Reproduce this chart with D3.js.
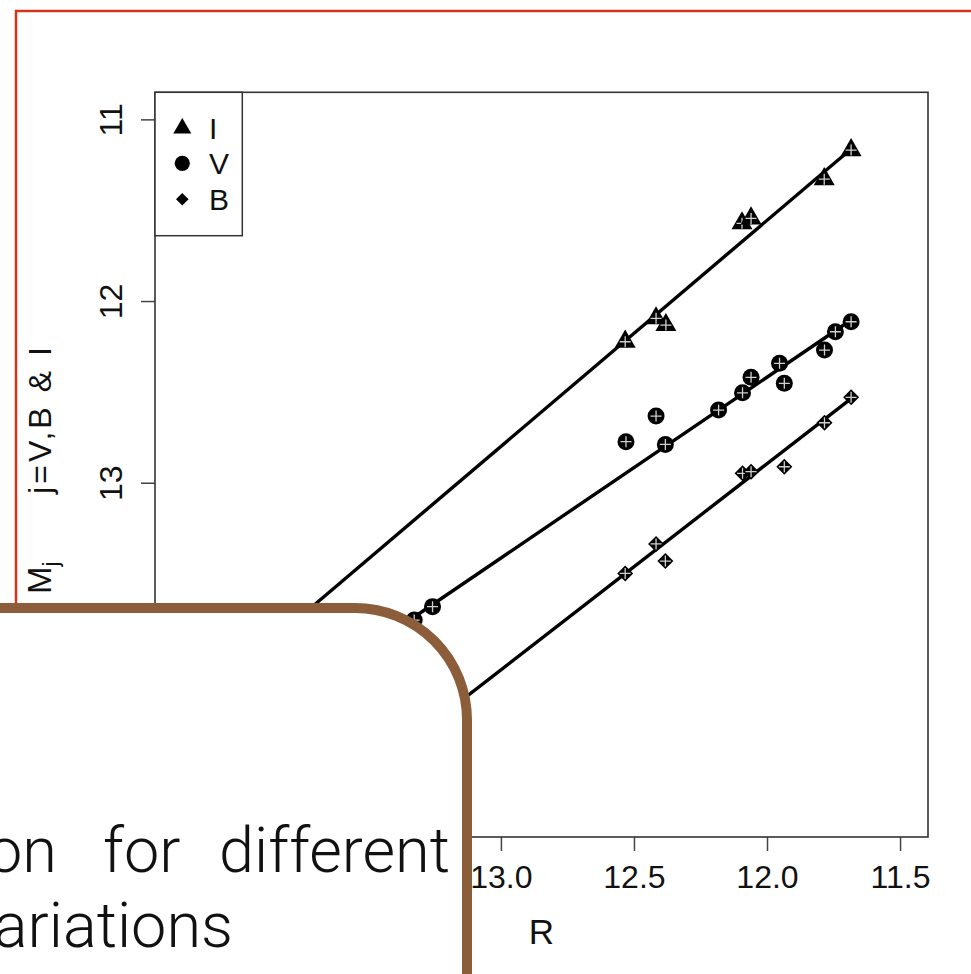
<!DOCTYPE html>
<html lang="en">
<head>
    <meta charset="UTF-8">
    <title>Magnitude vs R</title>
    <script src="https://d3js.org/d3.v7.min.js"></script>
    <style>
        body {
            margin: 0;
            background: #fff;
        }
        svg {
            display: block;
        }
        .axis text {
            font-family: 'Liberation Sans', Arial, sans-serif;
            font-size: 32px;
            fill: #111;
        }
        .axis line {
            stroke: #444;
            stroke-width: 1.5;
        }
        .title {
            font-family: 'Liberation Sans', Arial, sans-serif;
            fill: #111;
        }
        .fit {
            fill: none;
            stroke: #000;
            stroke-width: 3.4;
        }
        .note {
            font-family: 'Roboto', 'Liberation Sans', sans-serif;
            font-weight: 300;
            font-size: 63px;
            fill: #111;
        }
    </style>
</head>
<body>
    <svg width="971" height="974"></svg>

    <script>
        // band magnitudes against R, one array pair per band
        const rI = [11.684, 11.785, 12.094, 12.060, 12.417, 12.380, 12.533];
        const mI = [11.169, 11.329, 11.572, 11.545, 12.095, 12.132, 12.224];

        const rV = [11.684, 11.743, 11.784, 11.953, 11.935, 12.060, 12.092, 12.182, 12.417, 12.530, 12.382, 13.257, 13.326];
        const mV = [12.114, 12.169, 12.270, 12.343, 12.453, 12.420, 12.505, 12.600, 12.633, 12.774, 12.789, 13.682, 13.756];

        const rB = [11.684, 11.784, 11.935, 12.092, 12.060, 12.417, 12.382, 12.533];
        const mB = [12.530, 12.670, 12.912, 12.948, 12.939, 13.337, 13.431, 13.499];

        // linear fits M = a + b * R for I, V, B
        const bands = ["I", "V", "B"];
        const fitIntercept = [-3.372, 0.473, -0.720];
        const fitSlope = [1.244, 0.9955, 1.1346];
        const fitRange = [14.1, 11.684];

        const xTicks = [13.0, 12.5, 12.0, 11.5];
        const yTicks = [11, 12, 13];

        const svg = d3.select("svg");
        const plotL = 155, plotR = 928, plotT = 92.3, plotB = 837;

        const x = d3.scaleLinear().domain([14.30, 11.395]).range([plotL, plotR]);
        const y = d3.scaleLinear().domain([10.851, 14.95]).range([plotT, plotB]);

        // red frame
        svg.append("path")
            .attr("d", "M16,980 L16,11 L990,11")
            .attr("fill", "none")
            .attr("stroke", "#d5341b")
            .attr("stroke-width", 2.5);

        // axes
        const xAxis = svg.append("g")
            .attr("class", "axis")
            .attr("transform", "translate(0," + plotB + ")")
            .call(d3.axisBottom(x).tickValues(xTicks).tickFormat(d3.format(".1f")).tickSize(14).tickPadding(14.3));
        xAxis.select(".domain").remove();

        const yAxis = svg.append("g")
            .attr("class", "axis")
            .attr("transform", "translate(" + plotL + ",0)")
            .call(d3.axisLeft(y).tickValues(yTicks).tickFormat(d3.format("d")).tickSize(14));
        yAxis.select(".domain").remove();
        yAxis.selectAll("text")
            .attr("transform", "rotate(-90)")
            .attr("x", 0)
            .attr("y", -33.3)
            .attr("dy", 0)
            .attr("text-anchor", "middle");

        svg.selectAll(".axis text").attr("fill", "#111");

        // plot box
        svg.append("rect")
            .attr("x", plotL)
            .attr("y", plotT)
            .attr("width", plotR - plotL)
            .attr("height", plotB - plotT)
            .attr("fill", "none")
            .attr("stroke", "#333")
            .attr("stroke-width", 1.6);

        // axis titles
        svg.append("text")
            .attr("class", "title")
            .attr("x", (plotL + plotR) / 2)
            .attr("y", 944)
            .attr("text-anchor", "middle")
            .style("font-size", "35px")
            .text("R");

        const yTitle = svg.append("text")
            .attr("class", "title")
            .attr("transform", "translate(51,594) rotate(-90)")
            .style("font-size", "33px");
        yTitle.append("tspan").text("M");
        yTitle.append("tspan").attr("dy", 7).style("font-size", "22px").text("j");

        svg.append("text")
            .attr("class", "title")
            .attr("transform", "translate(51,494) rotate(-90)")
            .style("font-size", "32px")
            .attr("textLength", 147)
            .attr("lengthAdjust", "spacing")
            .text("j=V,B & I");

        // fitted lines
        bands.forEach(function (b, i) {
            const ends = fitRange.map(function (r) {
                return [x(r), y(fitIntercept[i] + fitSlope[i] * r)];
            });
            svg.append("path")
                .attr("class", "fit")
                .attr("d", d3.line()(ends));
        });

        // marker shapes
        function triangle(s) {
            const h = s * Math.sqrt(3) / 2;
            return "M0," + (-2 * h / 3) + "L" + (s / 2) + "," + (h / 3) + "L" + (-s / 2) + "," + (h / 3) + "Z";
        }
        function diamond(r) {
            return "M0," + (-r) + "L" + r + ",0L0," + r + "L" + (-r) + ",0Z";
        }
        function circle(r) {
            return "M" + r + ",0A" + r + "," + r + " 0 1,1 " + (-r) + ",0A" + r + "," + r + " 0 1,1 " + r + ",0Z";
        }

        const series = [
            {r: rI, m: mI, shape: triangle(21)},
            {r: rV, m: mV, shape: circle(8.5)},
            {r: rB, m: mB, shape: diamond(8)}
        ];

        series.forEach(function (s) {
            const pts = svg.append("g")
                .selectAll("g")
                .data(d3.range(s.r.length))
                .enter()
                .append("g")
                .attr("transform", function (i) {
                    return "translate(" + x(s.r[i]) + "," + y(s.m[i]) + ")";
                });
            pts.append("path")
                .attr("d", s.shape)
                .attr("fill", "#000");
            pts.append("path")
                .attr("d", "M-5.5,0H5.5M0,-5.5V5.5")
                .attr("stroke", "#d0d0d0")
                .attr("stroke-width", 1.3);
        });

        // legend
        const legend = svg.append("g");
        legend.append("rect")
            .attr("x", plotL)
            .attr("y", plotT)
            .attr("width", 87.3)
            .attr("height", 143.4)
            .attr("fill", "#fff")
            .attr("stroke", "#333")
            .attr("stroke-width", 1.5);
        const legendShapes = [triangle(18), circle(7.6), diamond(6.3)];
        const legendY = [128.3, 163.3, 199.3];
        bands.forEach(function (b, i) {
            legend.append("path")
                .attr("transform", "translate(182.3," + legendY[i] + ")")
                .attr("d", legendShapes[i])
                .attr("fill", "#000");
            legend.append("text")
                .attr("class", "title")
                .attr("x", 209)
                .attr("y", legendY[i] + 10.8)
                .style("font-size", "30px")
                .text(b);
        });

        // caption panel over the lower left
        svg.append("rect")
            .attr("x", -300)
            .attr("y", 608)
            .attr("width", 767)
            .attr("height", 700)
            .attr("rx", 112)
            .attr("fill", "#fff")
            .attr("stroke", "#8b5d3b")
            .attr("stroke-width", 10);

        svg.append("text").attr("class", "note")
            .attr("x", 57).attr("y", 872).attr("text-anchor", "end")
            .text("relation");
        svg.append("text").attr("class", "note")
            .attr("x", 103).attr("y", 872)
            .text("for");
        svg.append("text").attr("class", "note")
            .attr("x", 450).attr("y", 872).attr("text-anchor", "end")
            .text("different");
        svg.append("text").attr("class", "note")
            .attr("x", 233).attr("y", 947).attr("text-anchor", "end")
            .text("variations");
    </script>
</body>
</html>
